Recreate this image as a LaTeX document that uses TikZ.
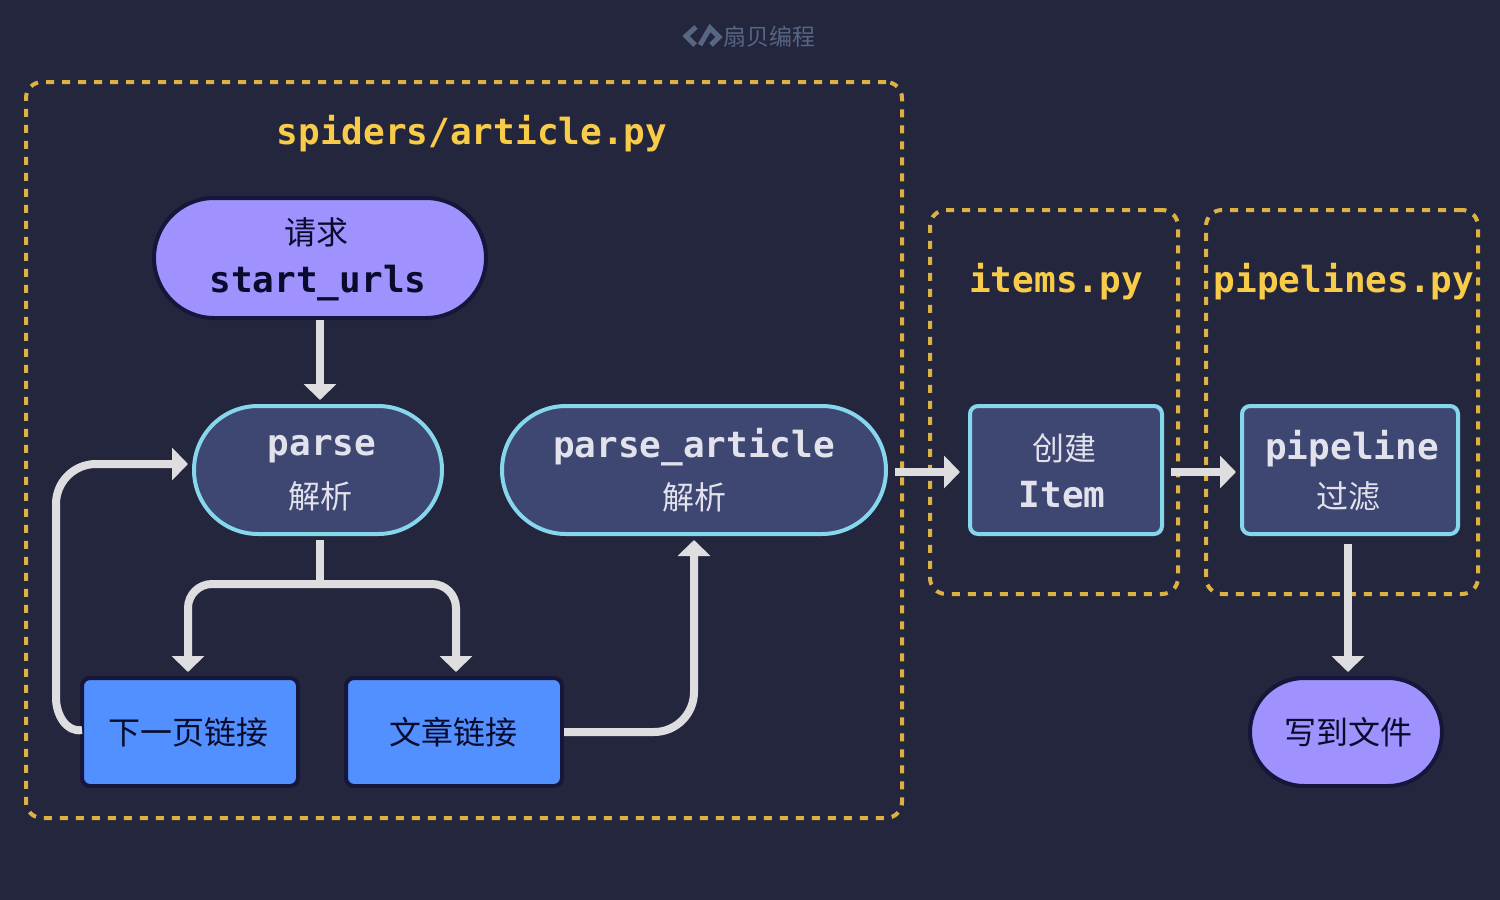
\documentclass[tikz,border=0pt]{standalone}
\usepackage{fontspec}
\usetikzlibrary{arrows.meta, positioning}
\setmonofont{DejaVu Sans Mono}
\newfontfamily\cjkfont{Noto Sans CJK SC}
\definecolor{bgcolor}{HTML}{24263D}
\definecolor{groupcolor}{HTML}{DDB243}
\definecolor{titlecolor}{HTML}{F8CB48}
\definecolor{arrowcolor}{HTML}{DEDEE1}
\definecolor{purplecolor}{HTML}{9F92FF}
\definecolor{bluecolor}{HTML}{5290FF}
\definecolor{slatecolor}{HTML}{3E4672}
\definecolor{cyancolor}{HTML}{86D6EC}
\definecolor{inkcolor}{HTML}{15163A}
\definecolor{darktext}{HTML}{090B2C}
\definecolor{paletext}{HTML}{E2E2EC}
\definecolor{markcolor}{HTML}{566683}
\newcommand{\code}[1]{{\ttfamily\bfseries\fontsize{18}{25}\selectfont\vphantom{lp\_}#1}}
\newcommand{\padtop}[1]{\rule{0pt}{#1}}

\begin{document}
\begin{tikzpicture}[
    x=0.5pt, y=-0.5pt,
    node distance=40pt and 40pt,
    box/.style={draw, line width=2pt, rounded corners=4pt, outer sep=0pt,
                inner sep=0pt, align=center,
                font=\cjkfont\fontsize{16}{25}\selectfont},
    slatebox/.style={box, fill=slatecolor, draw=cyancolor, text=paletext},
    slatepill/.style={slatebox, rounded corners=32pt},
    linkbox/.style={box, fill=bluecolor, draw=inkcolor, text=darktext,
                    minimum width=108pt, minimum height=54pt},
    pill/.style={box, fill=purplecolor, draw=inkcolor, text=darktext},
    group/.style={draw=groupcolor, line width=2pt, rounded corners=8pt,
                  dash pattern=on 4pt off 4pt, inner sep=0pt},
    title/.style={text=titlecolor, font=\ttfamily\bfseries\fontsize{18}{22}\selectfont},
    arr/.style={-{Triangle[width=16pt, length=8pt]}, line width=4pt, color=arrowcolor},
    logoline/.style={draw=markcolor, line width=2.5pt, miter limit=4}
  ]
  \fill[bgcolor] (0,0) rectangle (1500,900);
  \useasboundingbox (0,0) rectangle (1500,900);
  % Watermark
  \draw[logoline] (696,27)--(686,36)--(695,45);
  \draw[logoline] (700,45)--(710,28)--(719,37)--(711,45);
  \node[text=markcolor, font=\cjkfont\fontsize{11.5}{14}\selectfont] (mark) at (769,36.5) {扇贝编程};
  % Groups
  \node[group, minimum width=438pt, minimum height=368pt] (spidergrp) at (464,450) {};
  \node[group, minimum width=124pt, minimum height=192pt] (itemgrp) at (1054,402) {};
  \node[group, minimum width=136pt, minimum height=192pt] (pipegrp) at (1342,402) {};
  \node[title] (spidertitle) at (472,134) {spiders/article.py};
  \node[title] (itemtitle) at (1056,282) {items.py};
  \node[title] (pipetitle) at (1344,282) {pipelines.py};
  % Spider nodes
  \node[pill, rounded corners=30pt, minimum width=166pt, minimum height=60pt] (start) at (320,258)
    {\padtop{15pt}请求\hspace*{4pt}\\[-1pt]\code{start\_urls}\hspace*{2pt}};
  \node[slatepill, minimum width=124pt, minimum height=64pt, below=44pt of start, xshift=-1pt] (parse)
    {\hspace*{4pt}\code{parse}\\[1.5pt]\hspace*{2pt}解析};
  \node[slatepill, minimum width=192pt, minimum height=64pt, right=30pt of parse] (parsearticle)
    {\code{parse\_article}\\[1pt]解析};
  \node[linkbox, below=72pt of parse, xshift=-64pt] (nextpage) {下一页链接\hspace*{2pt}};
  \node[linkbox, right=24pt of nextpage] (articlelink) {文章链接\hspace*{1pt}};
  % Item and pipeline
  \node[slatebox, minimum width=96pt, minimum height=64pt, right=42pt of parsearticle] (item)
    {\padtop{18.5pt}创建\hspace*{2pt}\\[-1.5pt]\code{Item}\hspace*{4pt}};
  \node[slatebox, minimum width=108pt, minimum height=64pt, right=40pt of item] (pipeline)
    {\padtop{15.5pt}\hspace*{2pt}\code{pipeline}\\[-0.5pt]过滤\hspace*{2pt}};
  \node[pill, rounded corners=27pt, minimum width=96pt, minimum height=54pt, below=72pt of pipeline, xshift=-2pt] (write)
    {\hspace*{2pt}写到文件};
  % Arrows
  \draw[arr, shorten <=1pt, shorten >=3pt] (start.south)--([xshift=1pt]parse.north);
  \coordinate (fork) at (320,584);
  \draw[line width=4pt, color=arrowcolor, shorten <=3pt] ([xshift=1pt]parse.south)--(fork);
  \draw[arr, rounded corners=12pt, shorten >=3pt] (fork)-|([xshift=-1pt]nextpage.north);
  \draw[arr, rounded corners=12pt, shorten >=3pt] (fork)-|([xshift=1pt]articlelink.north);
  \coordinate (bend) at (56,698);
  \draw[arr, shorten >=3pt] ([yshift=1pt]nextpage.west) to[out=190, in=-90] (bend) [rounded corners=20pt] |- ([yshift=3pt]parse.west);
  \draw[arr, rounded corners=20pt, shorten <=1pt, shorten >=3pt] (articlelink.east)-|(parsearticle.south);
  \draw[arr, shorten <=4.5pt, shorten >=5pt] ([yshift=-1pt]parsearticle.east)--([yshift=-1pt]item.west);
  \draw[arr, shorten <=4.5pt, shorten >=3pt] ([yshift=-1pt]item.east)--([yshift=-1pt]pipeline.west);
  \draw[arr, shorten <=5pt, shorten >=3pt] ([xshift=-1pt]pipeline.south)--([xshift=1pt]write.north);
\end{tikzpicture}
\end{document}
